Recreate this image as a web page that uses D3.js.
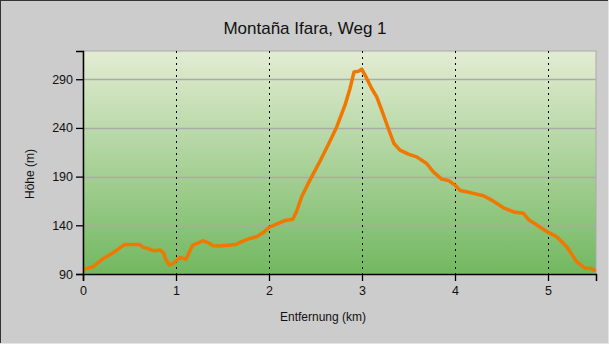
<!DOCTYPE html>
<html lang="de">
<head>
<meta charset="UTF-8">
<title>Montaña Ifara, Weg 1</title>
<script src="https://cdn.jsdelivr.net/npm/d3@7"></script>
<style>
    html, body { margin: 0; padding: 0; background: #cccccc; }
    svg { display: block; font-family: "Liberation Sans", Arial, sans-serif; }
</style>
</head>
<body>
<div id="chart"></div>
<script>
    // Entfernung (km) und Höhe (m)
    var distKm = [0, 0.11, 0.22, 0.31, 0.38, 0.45, 0.54, 0.605, 0.648, 0.70, 0.756, 0.828, 0.864, 0.892, 0.928,
        0.971, 1.043, 1.108, 1.133, 1.18, 1.23, 1.287, 1.348, 1.40, 1.473, 1.56, 1.645, 1.706, 1.796, 1.867,
        1.939, 2.003, 2.083, 2.172, 2.255, 2.298, 2.351, 2.44, 2.53, 2.638, 2.728, 2.817, 2.871, 2.914, 2.96,
        2.997, 3.043, 3.104, 3.158, 3.212, 3.283, 3.344, 3.409, 3.498, 3.588, 3.695, 3.767, 3.857, 3.928,
        4.0, 4.054, 4.126, 4.197, 4.305, 4.395, 4.52, 4.645, 4.735, 4.796, 4.896, 5.003, 5.093, 5.201,
        5.308, 5.398, 5.452, 5.513];
    var heightM = [94.8, 97.5, 106, 111, 115.6, 120.4, 120.4, 120.4, 117.4, 116, 113.9, 114.6, 111.9, 104.4, 99.2,
        101, 107, 105, 110.5, 119.7, 121.5, 124.2, 122, 119, 118.7, 119.5, 120.4, 123.3, 126.5, 128.3,
        132.5, 138, 141.3, 145, 146.2, 154.5, 169.3, 186.4, 202.5, 223, 241, 263.3, 280.5, 297.5, 298.2,
        300.3, 292.4, 280.5, 271.9, 258.2, 239.4, 224, 217.2, 213.1, 210.3, 203.5, 194.9, 187.4, 186.1,
        181.3, 175.8, 174.4, 172.8, 170.3, 165.9, 158, 153.3, 152.3, 145.4, 139.2, 132.7, 128.3, 118,
        102.6, 95.8, 95.8, 93.4];
    var xTicks = [0, 1, 2, 3, 4, 5];
    var yTicks = [90, 140, 190, 240, 290];

    var W = 609, H = 344;
    var plotL = 83, plotR = 596, plotT = 51, plotB = 274;

    var svg = d3.select('#chart').append('svg')
        .attr('width', W)
        .attr('height', H);

    // Rahmen
    svg.append('rect').attr('width', W).attr('height', H).attr('fill', '#cccccc');
    svg.append('line').attr('x1', 0).attr('y1', 0.5).attr('x2', W).attr('y2', 0.5).attr('stroke', '#333');
    svg.append('line').attr('x1', 0.5).attr('y1', 0).attr('x2', 0.5).attr('y2', H).attr('stroke', '#333');
    svg.append('line').attr('x1', 0).attr('y1', H - 0.5).attr('x2', W).attr('y2', H - 0.5).attr('stroke', '#e4e4e4');
    svg.append('line').attr('x1', W - 0.5).attr('y1', 0).attr('x2', W - 0.5).attr('y2', H).attr('stroke', '#e4e4e4');

    var x = d3.scaleLinear().domain([0, 5.516]).range([plotL, plotR]);
    var y = d3.scaleLinear().domain([90, 319]).range([plotB, plotT]);

    var grad = svg.append('defs').append('linearGradient')
        .attr('id', 'bg').attr('x1', 0).attr('y1', 0).attr('x2', 0).attr('y2', 1);
    grad.append('stop').attr('offset', '0%').attr('stop-color', '#e3ecd3');
    grad.append('stop').attr('offset', '100%').attr('stop-color', '#72b860');

    svg.append('rect')
        .attr('x', plotL).attr('y', plotT)
        .attr('width', plotR - plotL).attr('height', plotB - plotT)
        .attr('fill', 'url(#bg)')
        .attr('stroke', '#aaaaaa');

    // horizontale Gitterlinien
    svg.selectAll('.hgrid').data(yTicks.slice(1)).enter().append('line')
        .attr('class', 'hgrid')
        .attr('x1', plotL).attr('x2', plotR)
        .attr('y1', d => Math.round(y(d)) + 0.5).attr('y2', d => Math.round(y(d)) + 0.5)
        .attr('stroke', '#aaaaaa').attr('stroke-width', 1.3);

    // vertikale gepunktete Linien
    svg.selectAll('.vgrid').data(xTicks.slice(1)).enter().append('line')
        .attr('class', 'vgrid')
        .attr('x1', d => Math.round(x(d)) + 0.5).attr('x2', d => Math.round(x(d)) + 0.5)
        .attr('y1', plotT).attr('y2', plotB)
        .attr('stroke', '#000').attr('stroke-dasharray', '2,4');

    // Höhenprofil
    var pts = distKm.map((d, i) => [d, heightM[i]]);
    svg.append('path')
        .datum(pts)
        .attr('fill', 'none')
        .attr('stroke', '#f07800')
        .attr('stroke-width', 3.5)
        .attr('stroke-linejoin', 'round')
        .attr('d', d3.line().x(d => x(d[0])).y(d => y(d[1])));

    // Achsen
    var xAxis = svg.append('g')
        .attr('transform', 'translate(0,' + plotB + ')')
        .call(d3.axisBottom(x).tickValues(xTicks).tickFormat(d3.format('d')).tickSizeOuter(0).tickSize(7).tickPadding(5));
    var yAxis = svg.append('g')
        .attr('transform', 'translate(' + plotL + ',0)')
        .call(d3.axisLeft(y).tickValues(yTicks).tickFormat(d3.format('d')).tickSizeOuter(0).tickSize(7).tickPadding(3));

    [xAxis, yAxis].forEach(function (g) {
        g.select('.domain').attr('stroke', '#000').attr('stroke-width', 1.5);
        g.selectAll('.tick line').attr('stroke', '#000').attr('stroke-width', 1.3);
        g.selectAll('.tick text').attr('fill', '#111').style('font-size', '12.5px')
            .style('font-family', '"Liberation Sans", Arial, sans-serif');
    });

    // Beschriftungen
    svg.append('text')
        .attr('x', 305).attr('y', 34)
        .attr('text-anchor', 'middle')
        .attr('fill', '#111')
        .style('font-size', '17px')
        .text('Montaña Ifara, Weg 1');

    svg.append('text')
        .attr('x', 323).attr('y', 321)
        .attr('text-anchor', 'middle')
        .attr('fill', '#111')
        .style('font-size', '12px')
        .text('Entfernung (km)');

    svg.append('text')
        .attr('transform', 'translate(34,174) rotate(-90)')
        .attr('text-anchor', 'middle')
        .attr('fill', '#111')
        .style('font-size', '12px')
        .text('Höhe (m)');
</script>
</body>
</html>
